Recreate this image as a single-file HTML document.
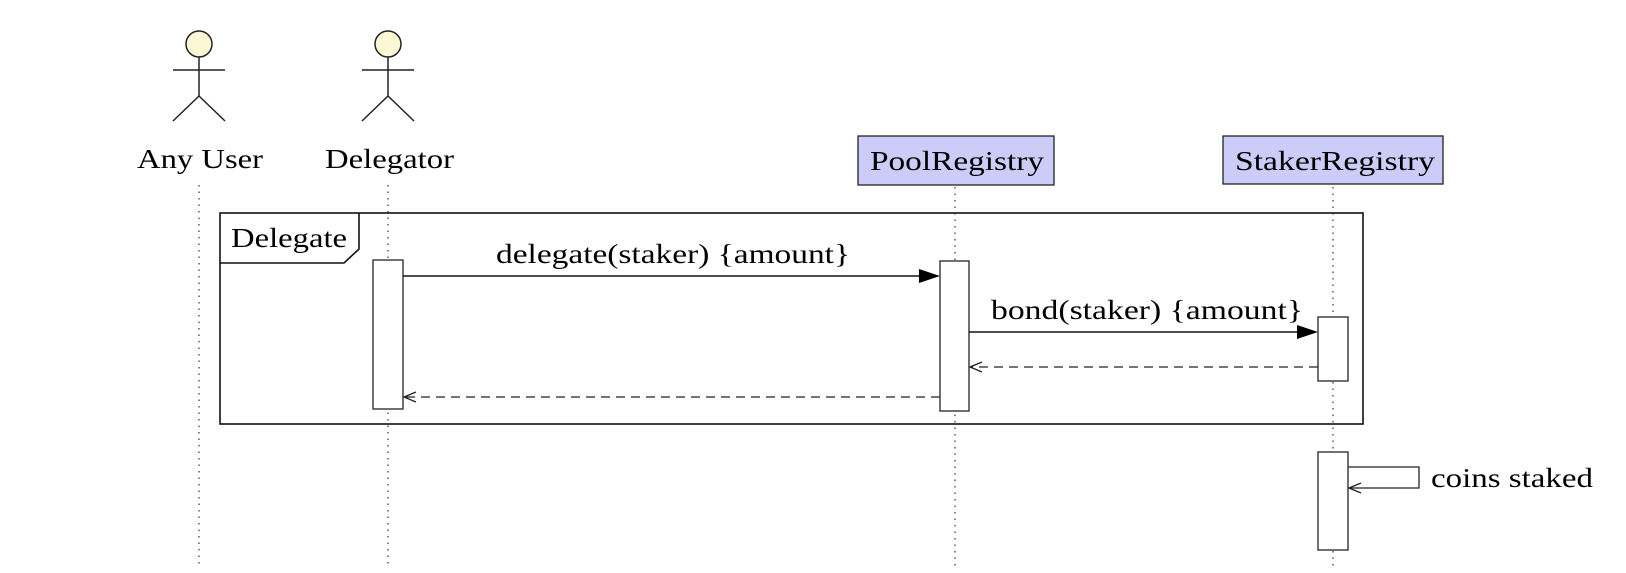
<!DOCTYPE html>
<html><head><meta charset="utf-8"><style>
html,body{margin:0;padding:0;background:#fff;}
svg text{font-family:"Liberation Serif",serif;font-size:27px;fill:#000;}
</style></head><body>
<svg width="1626" height="568" viewBox="0 0 1626 568" xmlns="http://www.w3.org/2000/svg">
<g stroke="#444" stroke-width="1.3" stroke-dasharray="1.5 5" fill="none">
<line x1="199" y1="185" x2="199" y2="568"/>
<line x1="388" y1="185" x2="388" y2="568"/>
<line x1="955" y1="187" x2="955" y2="568"/>
<line x1="1333" y1="187" x2="1333" y2="568"/>
</g>
<g stroke="#222" stroke-width="1.5" fill="none">
<circle cx="199" cy="44" r="13" fill="#fdf7d6"/>
<line x1="199" y1="57" x2="199" y2="96"/><line x1="173" y1="70" x2="225" y2="70"/>
<polyline points="173,121 199,96 225,121"/>
<circle cx="388" cy="44" r="13" fill="#fdf7d6"/>
<line x1="388" y1="57" x2="388" y2="96"/><line x1="362" y1="70" x2="414" y2="70"/>
<polyline points="362,121 388,96 414,121"/>
</g>
<text x="137" y="168" textLength="126" lengthAdjust="spacingAndGlyphs">Any User</text>
<text x="325" y="168" textLength="129" lengthAdjust="spacingAndGlyphs">Delegator</text>
<rect x="858" y="136" width="196" height="49" fill="#ccccf8" stroke="#222" stroke-width="1.3"/>
<text x="870" y="170" textLength="174" lengthAdjust="spacingAndGlyphs">PoolRegistry</text>
<rect x="1223" y="136" width="220" height="48" fill="#ccccf8" stroke="#222" stroke-width="1.3"/>
<text x="1235" y="170" textLength="200" lengthAdjust="spacingAndGlyphs">StakerRegistry</text>
<rect x="220" y="213" width="1143" height="211" fill="none" stroke="#111" stroke-width="1.6"/>
<polyline points="220,263 344,263 359,249 359,213" fill="none" stroke="#111" stroke-width="1.6"/>
<text x="231" y="247" textLength="116" lengthAdjust="spacingAndGlyphs">Delegate</text>
<g fill="#fff" stroke="#333" stroke-width="1.4">
<rect x="373" y="260" width="30" height="149"/>
<rect x="940" y="261" width="29" height="150"/>
<rect x="1318" y="317" width="30" height="64"/>
<rect x="1318" y="452" width="30" height="98"/>
</g>
<line x1="403" y1="276" x2="922" y2="276" stroke="#111" stroke-width="1.4"/>
<polygon points="940,276 919,269 919,283" fill="#000"/>
<text x="496" y="263" textLength="354" lengthAdjust="spacingAndGlyphs">delegate(staker) {amount}</text>
<line x1="969" y1="332" x2="1300" y2="332" stroke="#111" stroke-width="1.4"/>
<polygon points="1318,332 1297,325 1297,339" fill="#000"/>
<text x="991" y="319" textLength="312" lengthAdjust="spacingAndGlyphs">bond(staker) {amount}</text>
<line x1="1318" y1="367" x2="970" y2="367" stroke="#222" stroke-width="1.3" stroke-dasharray="9 6"/>
<polyline points="982,362 970,367 982,372" fill="none" stroke="#222" stroke-width="1.3"/>
<line x1="940" y1="397" x2="404" y2="397" stroke="#222" stroke-width="1.3" stroke-dasharray="9 6"/>
<polyline points="416,392 404,397 416,402" fill="none" stroke="#222" stroke-width="1.3"/>
<polyline points="1348,467 1419,467 1419,488 1349,488" fill="none" stroke="#222" stroke-width="1.3"/>
<polyline points="1361,483 1349,488 1361,493" fill="none" stroke="#222" stroke-width="1.3"/>
<text x="1431" y="487" textLength="162" lengthAdjust="spacingAndGlyphs">coins staked</text>
</svg>
</body></html>
